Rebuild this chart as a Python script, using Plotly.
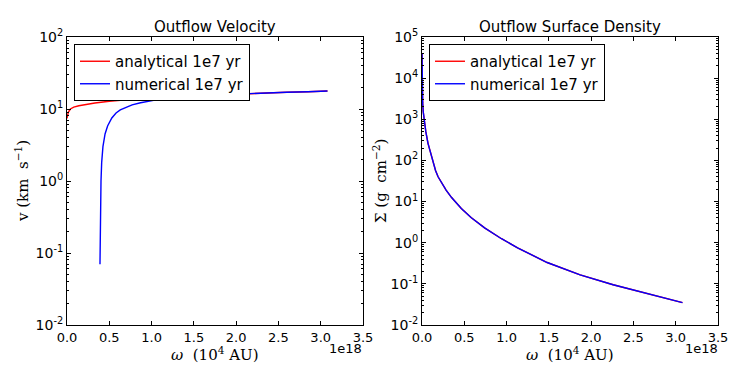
import plotly.graph_objects as go

# omega in units of 1e18 (axis carries the "1e18" offset label)
vel_x_analytical = [0.0, 0.005, 0.015, 0.04, 0.08, 0.14, 0.22, 0.33, 0.5, 0.73, 0.9,
                    1.12, 1.35, 1.51, 1.8, 2.1, 2.36, 2.6, 2.85, 3.08]
vel_analytical = [7.4, 8.3, 9.0, 10.0, 10.6, 11.1, 11.6, 12.1, 12.8, 13.6, 14.1,
                  14.6, 15.0, 15.3, 15.8, 16.3, 16.7, 17.1, 17.4, 17.8]

vel_x_numerical = [0.390, 0.392, 0.395, 0.398, 0.402, 0.41, 0.425, 0.45, 0.48, 0.53, 0.58,
                   0.63, 0.70, 0.77, 0.87, 0.97, 1.1, 1.21, 1.35, 1.51, 1.7, 1.9, 2.1,
                   2.36, 2.6, 2.85, 3.08]
vel_numerical = [0.07, 0.15, 0.3, 0.6, 1.0, 1.8, 3.0, 4.5, 5.8, 7.5, 8.8,
                 9.7, 10.6, 11.4, 12.2, 12.9, 13.7, 14.2, 14.7, 15.1, 15.6, 16.0, 16.4,
                 16.7, 17.1, 17.4, 17.8]

sig_x = [0.0, 0.003, 0.008, 0.015, 0.025, 0.045, 0.071, 0.10, 0.13, 0.16, 0.19, 0.235,
         0.285, 0.35, 0.465, 0.58, 0.74, 0.94, 1.13, 1.48, 1.87, 2.26, 2.66, 3.08]
sig_analytical = [40000, 6000, 2500, 1500, 950, 500, 260, 150, 85, 57, 40, 27,
                  19, 12.5, 6.8, 4.1, 2.3, 1.25, 0.75, 0.33, 0.165, 0.095, 0.058, 0.035]
sig_numerical = [40000, 6000, 2500, 1500, 950, 500, 260, 150, 85, 57, 40, 27,
                 19, 12.5, 6.8, 4.1, 2.3, 1.25, 0.75, 0.33, 0.165, 0.095, 0.058, 0.035]

x_ticks = [0.0, 0.5, 1.0, 1.5, 2.0, 2.5, 3.0, 3.5]
vel_decades = [-2, -1, 0, 1, 2]
sig_decades = [-2, -1, 0, 1, 2, 3, 4, 5]

# page body has an 8px margin; positions below are in window pixels
OFF = 8
W, H = 747 - 2 * OFF, 379 - 2 * OFF


def px(x):
    return (x - OFF) / W


def py(y):
    return 1 - (y - OFF) / H


def log_ticks(decades):
    vals = [10.0 ** d for d in decades]
    text = [f"10<sup>{d}</sup>" for d in decades]
    minor = [m * 10.0 ** d for d in decades[:-1] for m in range(2, 10)]
    return vals, text, minor


fig = go.Figure()

line_w = 1.4
fig.add_trace(go.Scatter(x=vel_x_analytical, y=vel_analytical, mode="lines",
                         line=dict(color="red", width=line_w), name="analytical 1e7 yr",
                         xaxis="x", yaxis="y", legend="legend"))
fig.add_trace(go.Scatter(x=vel_x_numerical, y=vel_numerical, mode="lines",
                         line=dict(color="blue", width=line_w), name="numerical 1e7 yr",
                         xaxis="x", yaxis="y", legend="legend"))
fig.add_trace(go.Scatter(x=sig_x, y=sig_analytical, mode="lines",
                         line=dict(color="red", width=line_w), name="analytical 1e7 yr",
                         xaxis="x2", yaxis="y2", legend="legend2"))
fig.add_trace(go.Scatter(x=sig_x, y=sig_numerical, mode="lines",
                         line=dict(color="blue", width=line_w), name="numerical 1e7 yr",
                         xaxis="x2", yaxis="y2", legend="legend2"))

sans = "DejaVu Sans"
serif = "DejaVu Serif"

xaxis_common = dict(range=[0, 3.5], tickvals=x_ticks, ticktext=[f"{t:.1f}" for t in x_ticks],
                    showgrid=False, zeroline=False, showline=True, linecolor="black",
                    linewidth=1, mirror="allticks", ticks="inside", ticklen=4,
                    tickcolor="black", tickfont=dict(family=sans, size=13, color="black"),
                    automargin=False)


def yaxis_for(decades):
    vals, text, minor = log_ticks(decades)
    return dict(type="log", range=[decades[0], decades[-1]], tickvals=vals, ticktext=text,
                showgrid=False, zeroline=False, showline=True, linecolor="black",
                linewidth=1, mirror="allticks", ticks="inside", ticklen=4,
                tickcolor="black", tickfont=dict(family=sans, size=14, color="black"),
                minor=dict(ticks="inside", ticklen=2, tickvals=minor, tickcolor="black",
                           showgrid=False),
                automargin=False)


y_dom = [py(325), py(37)]
legend_style = dict(xanchor="left", yanchor="top", bordercolor="black", borderwidth=1,
                    bgcolor="white", font=dict(family=sans, size=15, color="black"),
                    tracegroupgap=0)
fig.update_layout(
    width=W, height=H,
    margin=dict(l=0, r=0, t=0, b=0),
    paper_bgcolor="white", plot_bgcolor="white",
    xaxis=dict(domain=[px(67), px(363)], anchor="y", **xaxis_common),
    yaxis=dict(domain=y_dom, anchor="x", **yaxis_for(vel_decades)),
    xaxis2=dict(domain=[px(422), px(718)], anchor="y2", **xaxis_common),
    yaxis2=dict(domain=y_dom, anchor="x2", **yaxis_for(sig_decades)),
    legend=dict(x=px(74), y=py(44), **legend_style),
    legend2=dict(x=px(429), y=py(44), **legend_style),
    showlegend=True,
)

annotations = [
    dict(text="Outflow Velocity", x=px(215), y=py(27), font=dict(family=sans, size=15)),
    dict(text="Outflow Surface Density", x=px(570), y=py(27), font=dict(family=sans, size=15)),
    dict(text="<i>ω</i>  (10<sup>4</sup> AU)", x=px(215), y=py(354),
         font=dict(family=serif, size=15)),
    dict(text="<i>ω</i>  (10<sup>4</sup> AU)", x=px(570), y=py(354),
         font=dict(family=serif, size=15)),
    dict(text="v (km  s<sup>−1</sup>)", x=px(22), y=py(181), textangle=-90,
         font=dict(family=serif, size=15)),
    dict(text="Σ (g  cm<sup>−2</sup>)", x=px(380), y=py(181), textangle=-90,
         font=dict(family=serif, size=15)),
    dict(text="1e18", x=px(364), y=py(348), xanchor="right",
         font=dict(family=sans, size=13)),
    dict(text="1e18", x=px(720), y=py(348), xanchor="right",
         font=dict(family=sans, size=13)),
]
for a in annotations:
    a.setdefault("xanchor", "center")
    a.update(xref="paper", yref="paper", yanchor="middle", showarrow=False)
    a["font"]["color"] = "black"
fig.update_layout(annotations=annotations)

fig.write_html("out.html")
